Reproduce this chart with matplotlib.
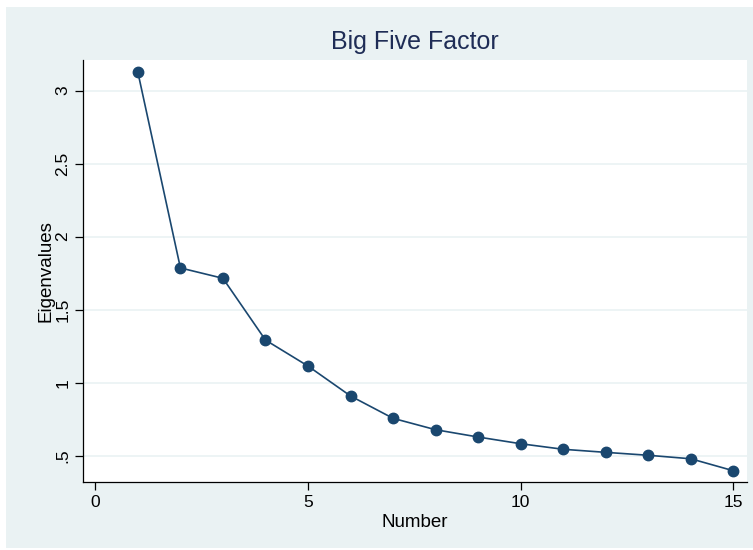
import matplotlib.pyplot as plt
from matplotlib.patches import Rectangle

plt.rcParams['font.family'] = ['Liberation Sans', 'DejaVu Sans']

# Scree plot data
number = [1, 2, 3, 4, 5, 6, 7, 8, 9, 10, 11, 12, 13, 14, 15]
eigenvalues = [3.126, 1.786, 1.715, 1.292, 1.114, 0.909, 0.756, 0.678,
               0.628, 0.582, 0.544, 0.523, 0.503, 0.479, 0.397]
x_ticks = [0, 5, 10, 15]
y_ticks = [0.5, 1, 1.5, 2, 2.5, 3]
y_tick_labels = ['.5', '1', '1.5', '2', '2.5', '3']

navy = '#1a476f'
bg = '#eaf2f3'

fig = plt.figure(figsize=(7.53, 5.5), dpi=100)
fig.patch.set_facecolor('white')
fig.patches.append(Rectangle((6 / 753, 2 / 550), 1, 541 / 550,
                             transform=fig.transFigure, facecolor=bg,
                             edgecolor='none', zorder=-10))

ax = fig.add_axes([83 / 753, 68 / 550, 664 / 753, 422 / 550])
ax.set_facecolor('white')

ax.plot(number, eigenvalues, color=navy, linewidth=1.2, marker='o',
        markersize=7.5, markerfacecolor=navy, markeredgecolor=navy, zorder=3)

ax.set_xlim(-0.29, 15.32)
ax.set_ylim(0.32, 3.21)
ax.set_xticks(x_ticks)
ax.set_yticks(y_ticks)
ax.set_yticklabels(y_tick_labels, rotation=90, va='center')
ax.tick_params(axis='both', labelsize=12.5, length=6, width=0.9, color='black',
               labelcolor='black')
ax.tick_params(axis='y', pad=3)
ax.grid(axis='y', color=bg, linewidth=1.2)
ax.set_axisbelow(True)

for side in ['top', 'right']:
    ax.spines[side].set_visible(False)
for side in ['left', 'bottom']:
    ax.spines[side].set_linewidth(0.9)

ax.set_xlabel('Number', fontsize=13.5, labelpad=3)
ax.set_ylabel('Eigenvalues', fontsize=13.5, labelpad=1)
ax.set_title('Big Five Factor', fontsize=18, color='#1f2d56', pad=8)

fig.savefig('out.png', dpi=100)
